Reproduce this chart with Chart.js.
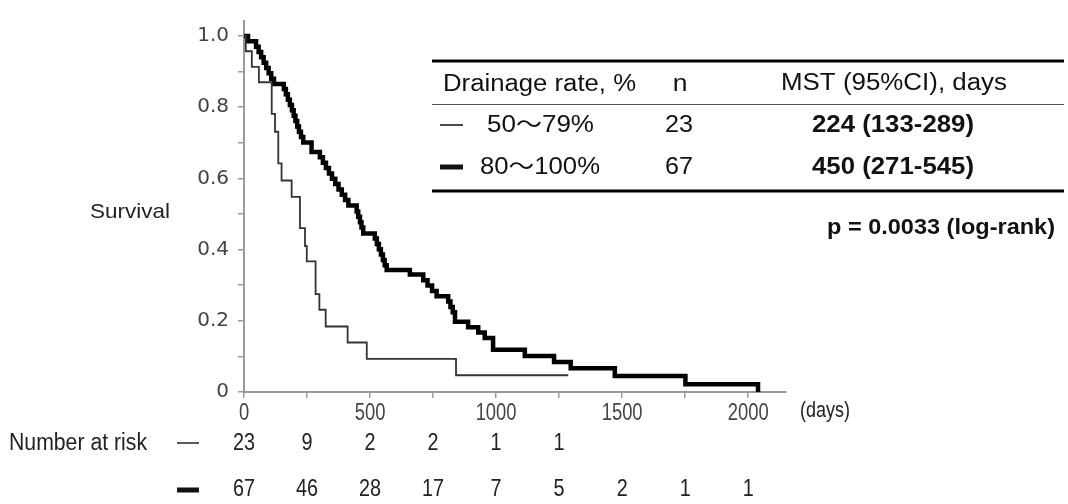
<!DOCTYPE html>
<html>
<head>
<meta charset="utf-8">
<script src="https://cdn.jsdelivr.net/npm/chart.js@4.4.1/dist/chart.umd.min.js"></script>
<style>
  body { margin: 0; background: #fff; }
  #wrap { width: 1068px; height: 504px; position: relative; }
</style>
</head>
<body>
<div id="wrap"><canvas id="km"></canvas></div>
<script>
// Kaplan-Meier steps: day of event, survival after it
const thinDays = [0, 7, 31, 59, 110, 123, 136, 149, 189, 222, 242, 249, 284, 299, 324, 411, 487, 841, 1286];
const thinSurv = [1, 0.957, 0.913, 0.87, 0.781, 0.731, 0.642, 0.594, 0.548, 0.46, 0.41, 0.367, 0.275, 0.231, 0.184, 0.139, 0.093, 0.047, 0.047];

const thickDays = [0, 16, 48, 58, 68, 78, 88, 98, 108, 119,
  158, 166, 174, 182, 190, 197, 204, 211, 218, 226, 235,
  268, 301, 313, 325, 337, 349, 362, 375, 388, 401, 414,
  447, 453, 460, 466, 473, 519, 527, 535, 543, 551, 558, 566,
  658, 711, 728, 746, 764, 810, 819, 828, 837,
  889, 929, 955, 988, 1114, 1230, 1296, 1471, 1751, 2039];
const thickSurv = [1, 0.985, 0.970, 0.955, 0.940, 0.925, 0.910, 0.895, 0.880, 0.865,
  0.851, 0.836, 0.821, 0.806, 0.791, 0.776, 0.761, 0.746, 0.731, 0.716, 0.701,
  0.674, 0.659, 0.644, 0.629, 0.614, 0.599, 0.584, 0.569, 0.554, 0.539, 0.524,
  0.507, 0.492, 0.477, 0.462, 0.445, 0.431, 0.416, 0.401, 0.386, 0.371, 0.356, 0.343,
  0.330, 0.314, 0.299, 0.284, 0.269, 0.254, 0.239, 0.224, 0.197,
  0.182, 0.167, 0.152, 0.119, 0.101, 0.084, 0.067, 0.045, 0.022, 0];

const xTicks = [0, 250, 500, 750, 1000, 1250, 1500, 1750, 2000];
const xLabelled = [0, 500, 1000, 1500, 2000];
const yTicks = [0, 0.1, 0.2, 0.3, 0.4, 0.5, 0.6, 0.7, 0.8, 0.9, 1.0];

const groups = ["50\u301C79%", "80\u301C100%"];
const groupN = [23, 67];
const groupMST = ["224 (133-289)", "450 (271-545)"];
const pText = "p = 0.0033 (log-rank)";

const riskDays1 = [0, 250, 500, 750, 1000, 1250];
const risk1 = [23, 9, 2, 2, 1, 1];
const riskDays2 = [0, 250, 500, 750, 1000, 1250, 1500, 1750, 2000];
const risk2 = [67, 46, 28, 17, 7, 5, 2, 1, 1];

const FONT = '"Liberation Sans", Arial, "Noto Sans CJK JP", sans-serif';
const AXIS = "#9a9a9a";

function toXY(days, surv) {
  return days.map((d, i) => ({ x: d, y: surv[i] }));
}

// text with optional horizontal stretch to hit a measured width
function txt(ctx, s, x, y, o) {
  ctx.save();
  ctx.font = (o.bold ? "bold " : "") + o.size + "px " + (o.family || FONT);
  ctx.fillStyle = o.color || "#111";
  ctx.textBaseline = "middle";
  ctx.textAlign = o.align || "left";
  const w = ctx.measureText(s).width;
  const sx = o.width ? o.width / w : (o.sx || 1);
  ctx.translate(x, y);
  ctx.scale(sx, 1);
  ctx.fillText(s, 0, 0);
  ctx.restore();
}

function hline(ctx, x1, x2, y, w, color) {
  ctx.save();
  ctx.strokeStyle = color || "#000";
  ctx.lineWidth = w;
  ctx.beginPath();
  ctx.moveTo(x1, y);
  ctx.lineTo(x2, y);
  ctx.stroke();
  ctx.restore();
}

const extras = {
  id: "extras",
  afterDraw(chart) {
    const ctx = chart.ctx;
    const xs = chart.scales.x;

    // x tick labels (condensed, like the original)
    xLabelled.forEach((v) => {
      txt(ctx, String(v), xs.getPixelForValue(v), 414, { size: 23, sx: 0.8, align: "center", color: "#444" });
    });

    txt(ctx, "Survival", 90, 212, { size: 21, width: 80, color: "#222" });
    txt(ctx, "(days)", 800, 411, { size: 22, width: 50, color: "#222" });

    // table
    hline(ctx, 432, 1064, 61, 3);
    txt(ctx, "Drainage rate, %", 443, 85, { size: 23, width: 193 });
    txt(ctx, "n", 680, 85, { size: 23, sx: 1.15, align: "center" });
    txt(ctx, "MST (95%CI), days", 781, 84, { size: 23, width: 226 });
    hline(ctx, 432, 1064, 104.5, 1, "#555");

    const rowY = [126, 168];
    const dashW = [1.5, 5];
    groups.forEach((g, i) => {
      hline(ctx, 440, 463, rowY[i] - 1, dashW[i], "#111");
      txt(ctx, g, i === 0 ? 487 : 480, rowY[i], { size: 23, width: i === 0 ? 107 : 120 });
      txt(ctx, String(groupN[i]), 679, rowY[i], { size: 23, width: 28, align: "center" });
      txt(ctx, groupMST[i], 812, rowY[i], { size: 23, bold: true, width: 162 });
    });
    hline(ctx, 432, 1064, 191, 3);
    txt(ctx, pText, 827, 228, { size: 22, bold: true, width: 228 });

    // number at risk
    txt(ctx, "Number at risk", 9, 444, { size: 23, width: 138, color: "#222" });
    hline(ctx, 177, 199, 443, 1.5, "#222");
    hline(ctx, 177, 199, 490, 5, "#111");
    riskDays1.forEach((d, i) => {
      txt(ctx, String(risk1[i]), xs.getPixelForValue(d), 444, { size: 23, sx: 0.86, align: "center", color: "#222" });
    });
    riskDays2.forEach((d, i) => {
      txt(ctx, String(risk2[i]), xs.getPixelForValue(d), 490, { size: 23, sx: 0.86, align: "center", color: "#222" });
    });
  }
};

new Chart(document.getElementById("km"), {
  type: "line",
  data: {
    datasets: [
      {
        label: groups[0],
        data: toXY(thinDays, thinSurv),
        stepped: "before",
        borderColor: "#333",
        borderWidth: 1.8,
        pointRadius: 0,
        fill: false,
      },
      {
        label: groups[1],
        data: toXY(thickDays, thickSurv),
        stepped: "before",
        borderColor: "#000",
        borderWidth: 4.5,
        pointRadius: 0,
        fill: false,
      },
    ],
  },
  options: {
    responsive: true,
    maintainAspectRatio: false,
    animation: false,
    layout: { padding: { left: 0, right: 282, top: 10, bottom: 0 } },
    plugins: { legend: { display: false }, tooltip: { enabled: false } },
    scales: {
      x: {
        type: "linear",
        min: 0,
        max: 2150,
        afterFit: (s) => { s.height = 112; },
        afterBuildTicks: (s) => { s.ticks = xTicks.map((v) => ({ value: v })); },
        border: { display: true, color: AXIS, width: 2 },
        grid: { drawOnChartArea: false, drawTicks: true, tickLength: 6, color: AXIS, lineWidth: 1.5 },
        ticks: {
          autoSkip: false,
          maxRotation: 0,
          callback: () => "",
        },
      },
      y: {
        min: 0,
        max: 1.042,
        afterFit: (s) => { s.width = 244; },
        afterBuildTicks: (s) => { s.ticks = yTicks.map((v) => ({ value: v })); },
        border: { display: true, color: AXIS, width: 2 },
        grid: { drawOnChartArea: false, drawTicks: true, tickLength: 6, color: AXIS, lineWidth: 1.5 },
        ticks: {
          padding: 9,
          color: "#444",
          autoSkip: false,
          font: { family: '"DejaVu Sans"', size: 20 },
          callback: (v) => {
            const k = Math.round(v * 10);
            if (k === 0) return "0";
            return k % 2 === 0 ? (k / 10).toFixed(1) : "";
          },
        },
      },
    },
  },
  plugins: [extras],
});
</script>
</body>
</html>
